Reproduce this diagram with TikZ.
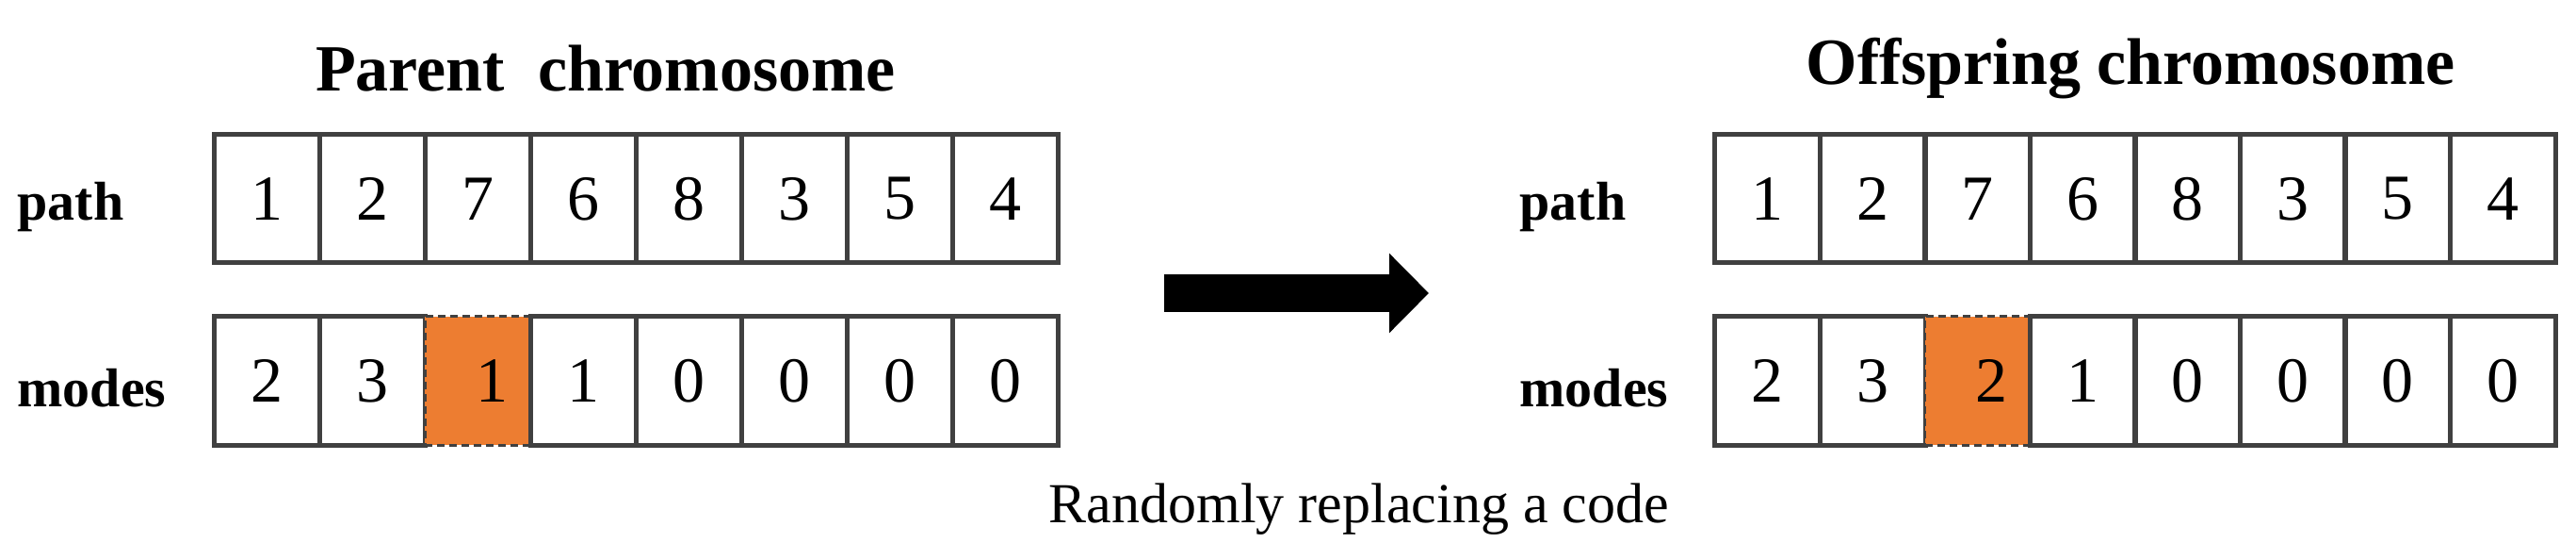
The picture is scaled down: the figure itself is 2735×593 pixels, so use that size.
\documentclass[tikz,border=0pt]{standalone}
\usepackage{fontspec}
\setmainfont{Liberation Serif}
\usetikzlibrary{arrows.meta}
\definecolor{org}{HTML}{ED7D31}
\definecolor{edge}{HTML}{404040}
\begin{document}
\begin{tikzpicture}[x=1pt,y=-1pt,
  cell/.style={draw=edge,line width=5pt,minimum width=112pt,minimum height=136pt,inner sep=0pt,font=\fontsize{68}{68}\selectfont},
  hot/.style={cell,fill=org,draw=edge,dashed,dash pattern=on 8pt off 5pt,line width=3pt},
  lab/.style={font=\fontsize{58}{58}\selectfont\bfseries},
  ttl/.style={font=\fontsize{70}{70}\selectfont\bfseries}]
\useasboundingbox (0,0) rectangle (2735,593);
% left
\node[ttl] (t1) at (643,73) {Parent\ \ chromosome};
\node[lab,anchor=west] (lp) at (15,220) {path};
\node[lab,anchor=west] (lm) at (15,412) {modes};
\foreach \v [count=\i] in {1,2,7,6,8,3,5,4}{
  \node[cell] (pa\i) at ({227+112*(\i-0.5)},211) {\v};}
\foreach \v [count=\i] in {2,3,1,1,0,0,0,0}{
  \ifnum\i=3 \node[hot] (ma\i) at ({227+112*(\i-0.5)},404) {\hspace*{30pt}\v};
  \else \node[cell] (ma\i) at ({227+112*(\i-0.5)},404) {\v};\fi}
% right
\node[ttl] (t2) at (2262,73) {Offspring chromosome};
\node[lab,anchor=west] (rp) at (1610,220) {path};
\node[lab,anchor=west] (rm) at (1610,412) {modes};
\foreach \v [count=\i] in {1,2,7,6,8,3,5,4}{
  \node[cell] (pb\i) at ({1821+111.5*(\i-0.5)},211) {\v};}
\foreach \v [count=\i] in {2,3,2,1,0,0,0,0}{
  \ifnum\i=3 \node[hot] (mb\i) at ({1821+111.5*(\i-0.5)},404) {\hspace*{30pt}\v};
  \else \node[cell] (mb\i) at ({1821+111.5*(\i-0.5)},404) {\v};\fi}
% arrow
\coordinate (a1) at (1236,311);
\coordinate (a2) at (1517,311);
\draw[line width=40pt,-{Triangle[length=42pt,width=82pt]}] (a1) -- (a2);
\node[font=\fontsize{60}{60}\selectfont] (cap) at (1443,540) {Randomly replacing a code};
\end{tikzpicture}
\end{document}
